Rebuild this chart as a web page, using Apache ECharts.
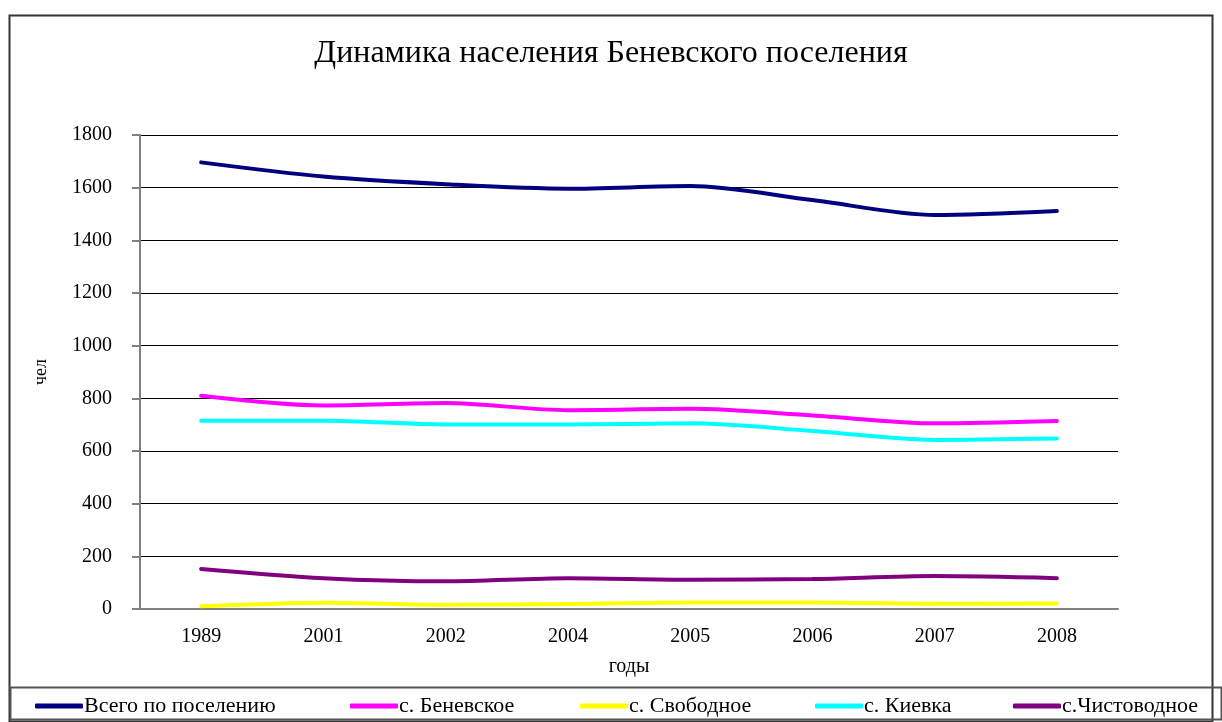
<!DOCTYPE html>
<html>
<head>
<meta charset="utf-8">
<script src="https://cdn.jsdelivr.net/npm/echarts@6/dist/echarts.min.js"></script>
<style>
  html, body { margin: 0; padding: 0; background: #fff; }
  #main { width: 1222px; height: 722px; }
</style>
</head>
<body>
<div id="main"></div>
<script>
// data
const years = ['1989', '2001', '2002', '2004', '2005', '2006', '2007', '2008'];
const total = [1696, 1642, 1613, 1596, 1606, 1553, 1496, 1511];
const benevskoe = [810, 773, 782, 755, 760, 735, 705, 714];
const svobodnoe = [10, 24, 16, 19, 25, 25, 20, 21];
const kievka = [715, 715, 701, 701, 705, 676, 642, 647];
const chistovodnoe = [152, 117, 105, 117, 111, 114, 125, 117];

const seriesNames = ['Всего по поселению', 'с. Беневское', 'с. Свободное', 'с. Киевка', 'с.Чистоводное'];
const seriesData = [total, benevskoe, svobodnoe, kievka, chistovodnoe];
const colors = ['#000080', '#FF00FF', '#FFFF00', '#00FFFF', '#800080'];
// where each legend entry starts (px)
const legendLeft = [30, 345, 575, 810, 1008];

const font = "'Liberation Serif', 'Times New Roman', serif";

let plot = echarts.init(document.querySelector('#main'));

const option = {
    animation: false,
    textStyle: { fontFamily: font, color: '#000' },
    title: {
        text: 'Динамика населения Беневского поселения',
        left: 'center',
        top: 33,
        textStyle: { fontFamily: font, fontSize: 32, fontWeight: 'normal', color: '#000' }
    },
    legend: seriesNames.map((name, i) => ({
        data: [name],
        left: legendLeft[i],
        top: 690,
        itemWidth: 48,
        itemHeight: 5,
        icon: 'roundRect',
        textStyle: { fontFamily: font, fontSize: 22, color: '#000', padding: [0, 0, 0, -4] }
    })),
    grid: { left: 140, right: 104, top: 135, bottom: 113 },
    xAxis: {
        type: 'category',
        data: years,
        name: 'годы',
        nameLocation: 'middle',
        nameGap: 48,
        nameTextStyle: { fontFamily: font, fontSize: 20, color: '#000' },
        axisLine: { lineStyle: { color: '#808080', width: 2 } },
        axisTick: { length: 7, lineStyle: { color: '#808080', width: 2 } },
        axisLabel: { fontFamily: font, fontSize: 20, color: '#000', margin: 18 }
    },
    yAxis: {
        type: 'value',
        min: 0,
        max: 1800,
        interval: 200,
        name: 'чел',
        nameLocation: 'middle',
        nameGap: 90,
        nameTextStyle: { fontFamily: font, fontSize: 18, color: '#000' },
        axisLine: { show: true, lineStyle: { color: '#808080', width: 2 } },
        axisTick: { show: true, length: 8, lineStyle: { color: '#808080', width: 2 } },
        axisLabel: {
            fontFamily: font, fontSize: 20, color: '#000', margin: 28,
            formatter: v => String(v)
        },
        splitLine: { lineStyle: { color: '#000', width: 1 } }
    },
    series: seriesNames.map((name, i) => ({
        name: name,
        type: 'line',
        data: seriesData[i],
        smooth: 0.3,
        symbol: 'none',
        lineStyle: { color: colors[i], width: 4, cap: 'round' },
        itemStyle: { color: colors[i] }
    })),
    graphic: [
        {
            type: 'rect',
            shape: { x: 9.5, y: 15.5, width: 1203, height: 706 },
            style: { fill: 'none', stroke: '#333', lineWidth: 2 },
            silent: true
        },
        {
            type: 'rect',
            shape: { x: 10.5, y: 687.5, width: 1211, height: 32 },
            style: { fill: 'none', stroke: '#555', lineWidth: 2 },
            silent: true
        }
    ]
};

plot.setOption(option);
</script>
</body>
</html>
